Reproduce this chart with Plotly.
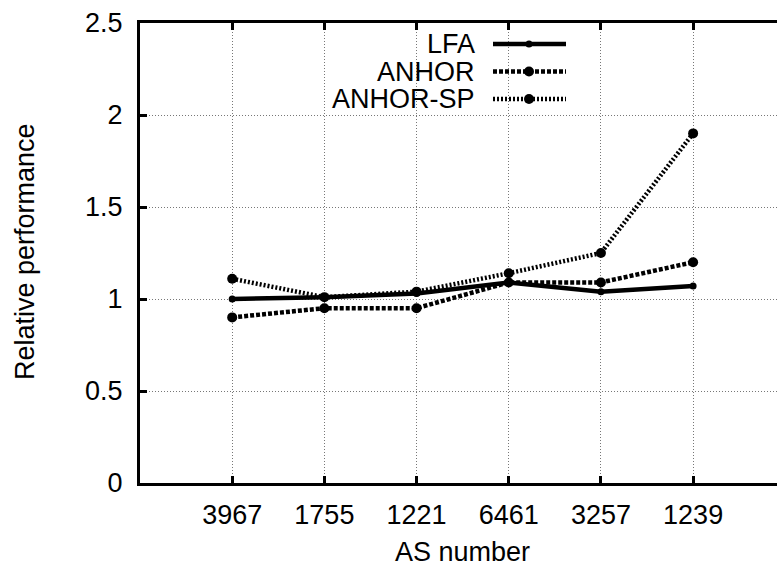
import plotly.graph_objects as go

categories = ["3967", "1755", "1221", "6461", "3257", "1239"]
lfa = [1.00, 1.01, 1.03, 1.09, 1.04, 1.07]
anhor = [0.90, 0.95, 0.95, 1.09, 1.09, 1.20]
anhor_sp = [1.11, 1.01, 1.04, 1.14, 1.25, 1.90]
y_ticks = [0, 0.5, 1, 1.5, 2, 2.5]
y_ticktext = ["0", "0.5", "1", "1.5", "2", "2.5"]

FONT = "Liberation Sans, Arial, Helvetica, sans-serif"
FS = 27

series = [
    ("LFA", lfa, dict(color="black", width=4.5), 7),
    ("ANHOR", anhor, dict(color="black", width=4.5, dash="4px,2px"), 10),
    ("ANHOR-SP", anhor_sp, dict(color="black", width=4.5, dash="2px,2px"), 10),
]

fig = go.Figure()
for name, vals, line, msize in series:
    fig.add_trace(go.Scatter(
        x=categories, y=vals, mode="lines+markers", name=name,
        line=line, marker=dict(color="black", size=msize, symbol="circle"),
        showlegend=False,
    ))

# legend built gnuplot-style: text right-aligned, sample to the right
leg_y = [(483 - 44) / 460, (483 - 71.5) / 460, (483 - 99) / 460]
for (name, vals, line, msize), yy in zip(series, leg_y):
    fig.add_annotation(xref="paper", yref="paper", x=(477 - 140) / 637, y=yy,
                       text=name, showarrow=False, xanchor="right", yanchor="middle",
                       font=dict(family=FONT, size=FS, color="black"))
    fig.add_shape(type="line", xref="paper", yref="paper",
                  x0=(493 - 140) / 637, x1=(566 - 140) / 637, y0=yy, y1=yy,
                  line=line)
    r = msize / 2 / 637
    ry = msize / 2 / 460
    cx = (529 - 140) / 637
    fig.add_shape(type="circle", xref="paper", yref="paper",
                  x0=cx - r, x1=cx + r, y0=yy - ry, y1=yy + ry,
                  fillcolor="black", line=dict(color="black", width=0))

fig.add_annotation(xref="paper", yref="paper", x=(462 - 140) / 637, y=-(552 - 483) / 460,
                   text="AS number", showarrow=False, xanchor="center", yanchor="middle",
                   font=dict(family=FONT, size=FS, color="black"))
fig.add_annotation(xref="paper", yref="paper", x=-(140 - 25) / 637, y=(483 - 252) / 460,
                   text="Relative performance", showarrow=False, textangle=-90,
                   xanchor="center", yanchor="middle",
                   font=dict(family=FONT, size=FS, color="black"))

fig.update_layout(
    width=777, height=569,
    margin=dict(l=140, r=0, t=23, b=86),
    plot_bgcolor="white", paper_bgcolor="white",
    font=dict(family=FONT, size=FS, color="black"),
    xaxis=dict(
        type="category", range=[-1, 5.91],
        showline=True, linecolor="black", linewidth=3, mirror="ticks",
        ticks="inside", ticklen=7, tickwidth=3, tickcolor="black",
        showgrid=True, gridcolor="#777777", griddash="1px,2px", gridwidth=1,
        tickfont=dict(family=FONT, size=FS, color="black"),
        zeroline=False, ticklabelstandoff=6,
    ),
    yaxis=dict(
        range=[0, 2.5], tickvals=y_ticks, ticktext=y_ticktext,
        showline=True, linecolor="black", linewidth=3,
        ticks="inside", ticklen=7, tickwidth=3, tickcolor="black",
        showgrid=True, gridcolor="#777777", griddash="1px,2px", gridwidth=1,
        tickfont=dict(family=FONT, size=FS, color="black"),
        zeroline=False, ticklabelstandoff=9,
    ),
)

fig.write_html("out.html")
